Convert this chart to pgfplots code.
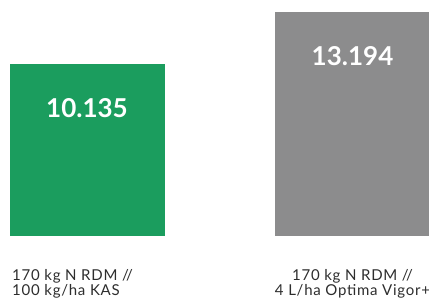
\documentclass[border=0pt]{standalone}
\usepackage{pgfplots}
\pgfplotsset{compat=1.18}
\usepackage{fontspec}
\setmainfont{Lato}
\newfontfamily\labfont[LetterSpace=5]{Lato}
\definecolor{bgreen}{RGB}{27,157,94}
\definecolor{bgray}{RGB}{140,140,141}
\definecolor{labtxt}{RGB}{45,45,45}
\begin{document}
\begin{tikzpicture}
\begin{axis}[
  at={(9pt,62pt)}, anchor=south west,
  scale only axis, width=420pt, height=236pt,
  xmin=-0.2938, xmax=1.288, ymin=0, ymax=13924,
  hide axis,
  ybar, bar width=155pt, bar shift=0pt,
  point meta=explicit symbolic,
  nodes near coords,
  nodes near coords style={anchor=center, yshift=-44pt, text=white, inner sep=0pt, font=\fontsize{26}{30}\selectfont\bfseries},
  clip=false,
]
\addplot[fill=bgreen, draw=none] coordinates {(0,10135) [10.135]};
\addplot[fill=bgray, draw=none] coordinates {(1,13194) [13.194]};
\node[anchor=north west, align=left, inner sep=0pt, text=labtxt, font=\labfont\fontsize{15}{15.2}\selectfont, xshift=-75pt, yshift=-33pt] at (axis cs:0,0) {170 kg N RDM //\\100 kg/ha KAS};
\node[anchor=north, align=center, inner sep=0pt, text=labtxt, font=\labfont\fontsize{15}{15.2}\selectfont, yshift=-33pt] at (axis cs:1,0) {170 kg N RDM //\\4 L/ha Optima Vigor+};
\end{axis}
\pgfresetboundingbox
\useasboundingbox (0,0) rectangle (429pt,298pt);
\end{tikzpicture}
\end{document}
